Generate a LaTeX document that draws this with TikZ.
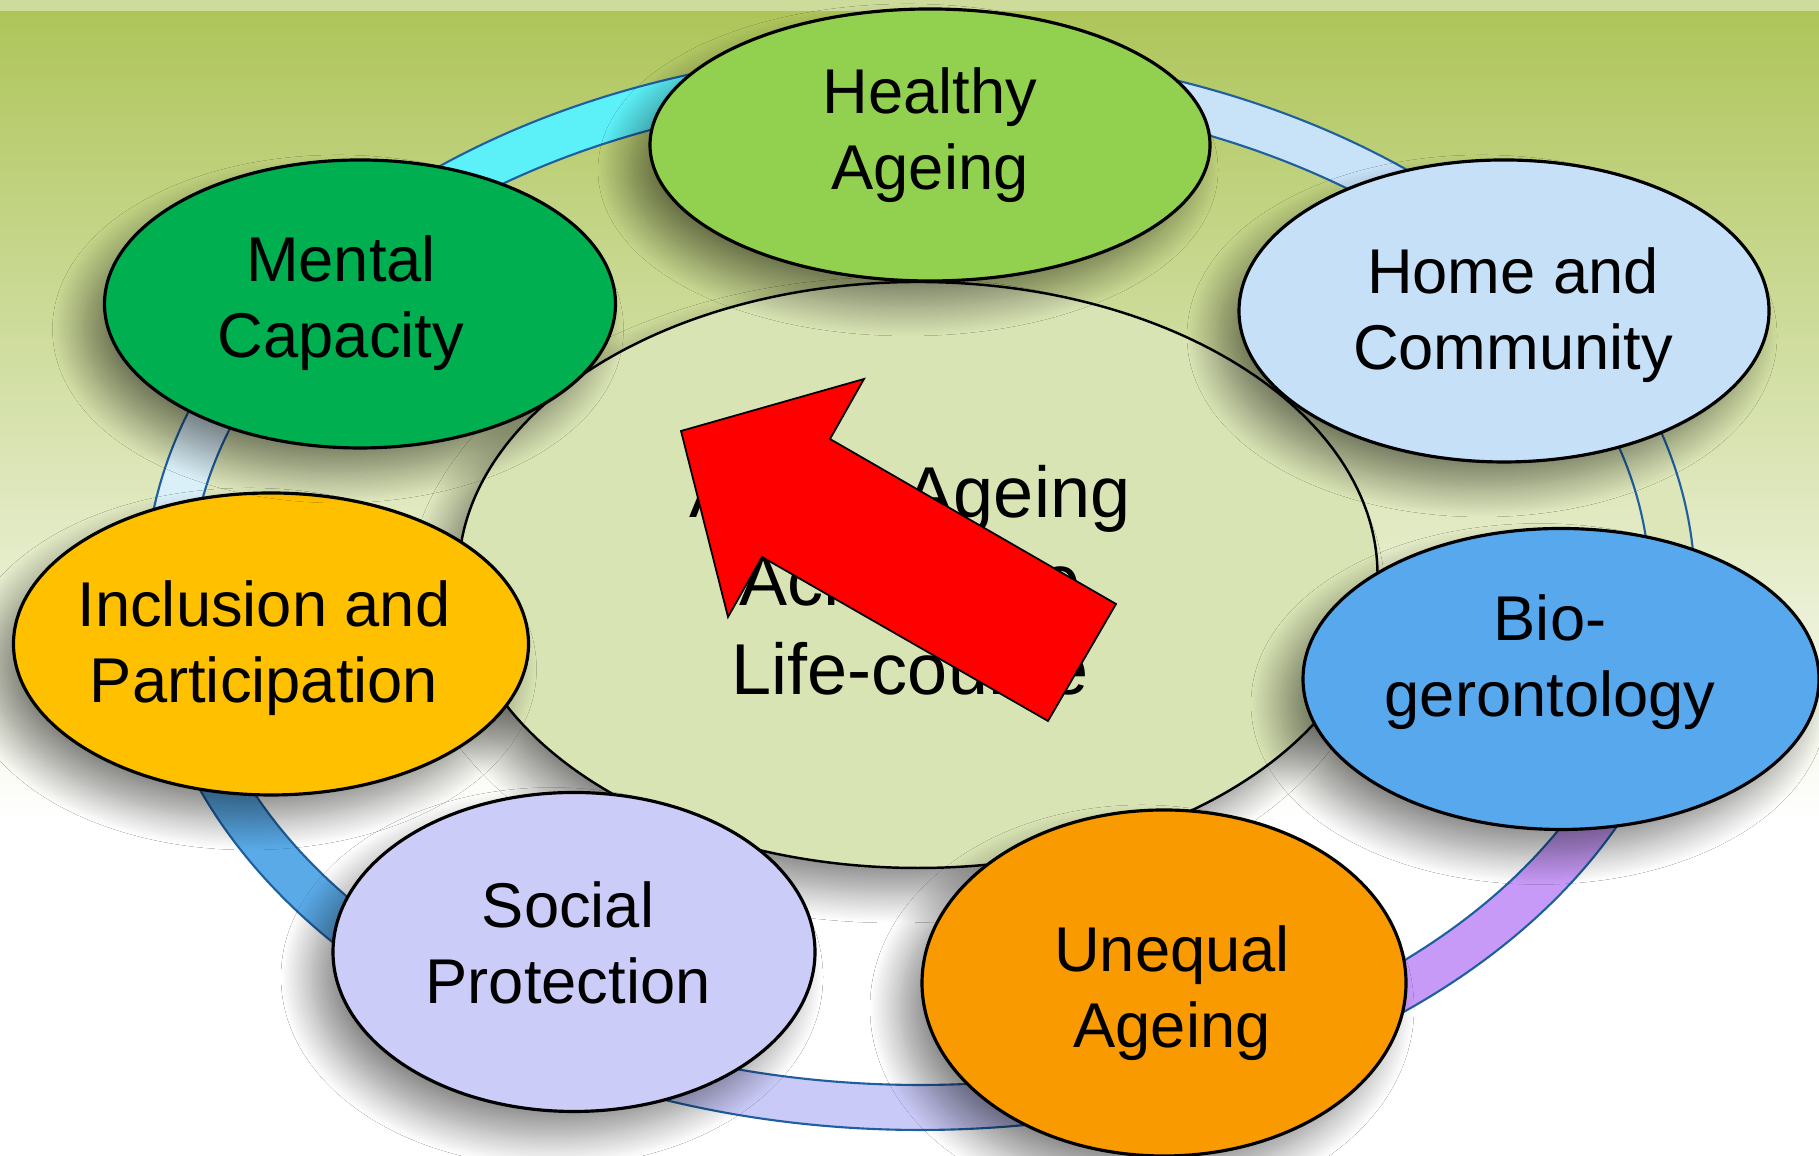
\documentclass[tikz,border=0pt]{standalone}
\usepackage{fontspec}
\setmainfont{Liberation Sans}
\usetikzlibrary{shapes.geometric,shadows.blur}
\definecolor{bgtop}{HTML}{AEC55A}
\definecolor{bgstrip}{HTML}{CDDC9A}
\definecolor{ringline}{HTML}{1F5FA0}
\definecolor{ringA}{HTML}{C8E2F8}
\definecolor{ringB}{HTML}{DCE6B8}
\definecolor{ringC}{HTML}{C89AF8}
\definecolor{ringD}{HTML}{CACAF8}
\definecolor{ringE}{HTML}{5AAAE8}
\definecolor{ringF}{HTML}{DAF0F8}
\definecolor{ringG}{HTML}{5CF0F8}
\definecolor{coreFill}{HTML}{D9E4B4}
\begin{document}
\begin{tikzpicture}[
	bubble/.style={ellipse, draw=black, line width=0.9pt, inner sep=0pt,
		blur shadow={shadow xshift=-0.22cm, shadow yshift=-0.25cm, shadow opacity=45, shadow blur radius=0.3cm, shadow blur steps=24}},
	bubtext/.style={align=center, inner sep=0pt, font=\fontsize{18}{21.5}\selectfont},
	ringseg/.style={draw=ringline, line width=0.6pt}]
	\useasboundingbox (0,0) rectangle (18.19,11.56);
		 \fill[white] (0,0) rectangle (18.19,11.56);
		 \shade[top color=bgtop, bottom color=white] (0,3.36) rectangle (18.19,11.45);
		 \fill[bgstrip] (0,11.45) rectangle (18.19,11.56);
		 \begin{scope}[shift={(9.20,5.66)}]
		 \foreach \a/\b/\col in {89/35/ringA, 35/-11/ringB, -11/-67/ringC, -67/-124/ringD, 236/187/ringE, 187/144/ringF, 144/89/ringG}{
		     \draw[ringseg, fill=\col] (\a:7.75cm and 5.40cm) arc[start angle=\a, end angle=\b, x radius=7.75cm, y radius=5.40cm] -- (\b:7.30cm and 4.95cm) arc[start angle=\b, end angle=\a, x radius=7.30cm, y radius=4.95cm] -- cycle;}
		 \end{scope}
		 \node[bubble, line width=0.7pt, fill=coreFill, minimum width=9.19cm, minimum height=5.86cm] (core) at (9.18,5.81) {};
		 \node[align=center, inner sep=0pt, font=\fontsize{20.5}{25.2}\selectfont] (coretxt) at (9.10,5.76) {Active Ageing\\Across the\\Life-course};
		 \draw[fill=red, line width=0.5pt] (6.81,7.25) -- (8.64,7.77) -- (8.30,7.17) -- (11.16,5.52) -- (10.48,4.35) -- (7.62,5.99) -- (7.28,5.39) -- cycle;
		 \node[bubble, fill={rgb,255:red,146;green,208;blue,80}, minimum width=5.60cm, minimum height=2.72cm] (healthy) at (9.30,10.11) {};
		 \node[bubble, fill={rgb,255:red,198;green,224;blue,248}, minimum width=5.30cm, minimum height=3.02cm] (home) at (15.04,8.45) {};
		 \node[bubble, fill={rgb,255:red,88;green,168;blue,238}, minimum width=5.16cm, minimum height=3.01cm] (bio) at (15.61,4.77) {};
		 \node[bubble, fill={rgb,255:red,248;green,154;blue,0}, minimum width=4.84cm, minimum height=3.46cm] (unequal) at (11.64,1.73) {};
		 \node[bubble, fill={rgb,255:red,204;green,204;blue,248}, minimum width=4.82cm, minimum height=3.19cm] (social) at (5.74,2.04) {};
		 \node[bubble, fill={rgb,255:red,255;green,192;blue,0}, minimum width=5.15cm, minimum height=3.02cm] (inclusion) at (2.71,5.12) {};
		 \node[bubble, fill={rgb,255:red,0;green,176;blue,80}, minimum width=5.11cm, minimum height=2.88cm] (mental) at (3.60,8.52) {};
		 \node[bubtext] (healthytxt) at (9.30,10.21) {Healthy\\Ageing};
		 \node[bubtext] (hometxt) at (15.13,8.41) {Home and\\Community};
		 \node[bubtext] (biotxt) at (15.50,4.94) {Bio-\\gerontology};
		 \node[bubtext] (unequaltxt) at (11.72,1.63) {Unequal\\Ageing};
		 \node[bubtext] (socialtxt) at (5.68,2.13) {Social\\Protection};
		 \node[bubtext] (inclusiontxt) at (2.64,5.08) {Inclusion and\\Participation};
		 \node[bubtext] (mentaltxt) at (3.41,8.53) {Mental\\Capacity};
\end{tikzpicture}
\end{document}
